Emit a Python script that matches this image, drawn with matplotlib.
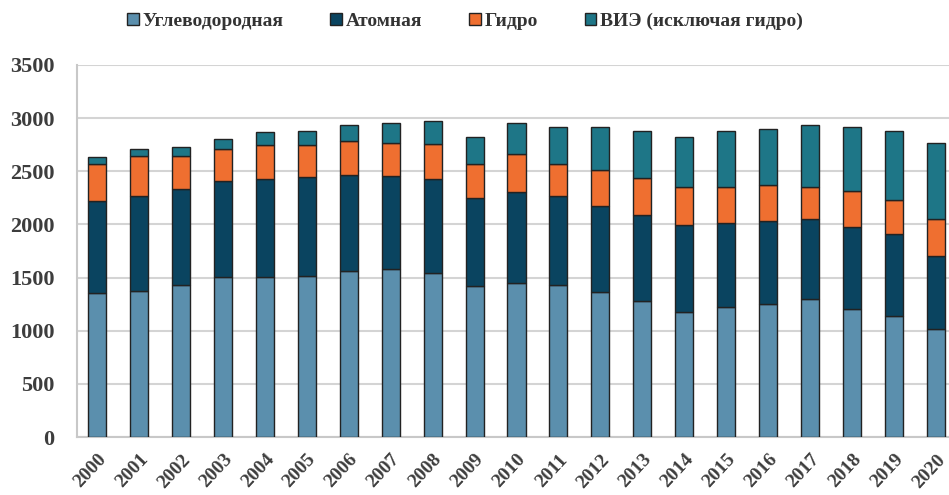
import numpy as np
import matplotlib.pyplot as plt
from matplotlib.patches import Patch

# Годы и значения (ТВт*ч)
years = [str(y) for y in range(2000, 2021)]
hydrocarbon = [1358, 1377, 1430, 1503, 1503, 1518, 1559, 1580, 1540, 1421, 1449,
               1430, 1367, 1277, 1173, 1226, 1252, 1296, 1208, 1136, 1013]
nuclear = [863, 891, 907, 909, 928, 929, 909, 872, 891, 828, 857,
           838, 807, 809, 822, 788, 778, 752, 771, 771, 693]
hydro = [348, 376, 307, 298, 320, 301, 317, 311, 323, 323, 360,
         304, 339, 354, 361, 339, 341, 308, 339, 320, 348]
res = [63, 66, 79, 97, 122, 134, 154, 192, 220, 245, 289,
       345, 398, 442, 470, 526, 527, 580, 602, 655, 709]

labels = ['Углеводородная', 'Атомная', 'Гидро', 'ВИЭ (исключая гидро)']
colors = ['#5B8FAD', '#0A4460', '#EF6F30', '#1E7687']

plt.rcParams['font.family'] = ['Liberation Serif', 'DejaVu Serif']
plt.rcParams['font.weight'] = 'bold'

fig = plt.figure(figsize=(9.49, 4.95), dpi=100)
ax = fig.add_axes([0.081, 0.117, 0.919, 0.752])

x = np.arange(len(years))
bottom = np.zeros(len(years))
for vals, col in zip([hydrocarbon, nuclear, hydro, res], colors):
    ax.bar(x, vals, 0.43, bottom=bottom, color=col, edgecolor='#222222',
           linewidth=1.0, zorder=3)
    bottom += np.array(vals)

ax.set_ylim(0, 3500)
ax.set_yticks(range(0, 3501, 500))
ax.set_xlim(-0.48, 20.31)
ax.set_xticks(x)
ax.set_xticklabels(years, rotation=47, ha='right', va='top',
                   rotation_mode='anchor')
ax.tick_params(axis='both', length=0, colors='#3d3d3d')
ax.tick_params(axis='x', pad=10, labelsize=14)
ax.tick_params(axis='y', pad=16, labelsize=16)

ax.grid(axis='y', color='#d4d4d4', linewidth=1.5, zorder=0)
for s in ['top', 'right']:
    ax.spines[s].set_visible(False)
for s in ['left', 'bottom']:
    ax.spines[s].set_color('#c8c8c8')
    ax.spines[s].set_linewidth(1.5)

handles = [Patch(facecolor=c, edgecolor='#222222', linewidth=1.0) for c in colors]
fig.legend(handles, labels, loc='upper center', bbox_to_anchor=(0.49, 1.01),
           ncol=4, frameon=False, fontsize=14, handlelength=0.6,
           handleheight=0.6, handletextpad=0.2, columnspacing=2.4,
           labelcolor='#333333')

fig.savefig('out.png', dpi=100)
